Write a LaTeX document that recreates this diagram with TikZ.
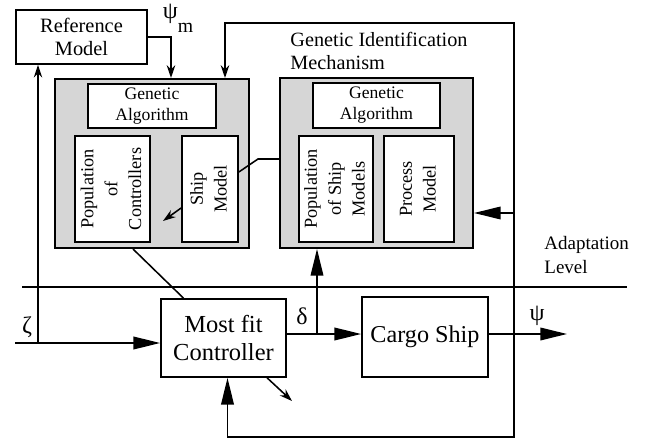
\documentclass[tikz,border=0pt]{standalone}
\usepackage{fontspec}
\setmainfont{Liberation Serif}
\usepackage{graphicx}
\usetikzlibrary{arrows.meta}

% vertical text for the tall boxes
\newcommand{\vtext}[1]{\rotatebox{90}{\begin{tabular}{@{}c@{}}#1\end{tabular}}}

\begin{document}
\begin{tikzpicture}[x=0.025cm, y=-0.025cm, line width=1.1pt]
    % Define basic node styles
    \tikzset{
        block/.style={
            rectangle,
            draw,
            fill=white,
            line width=1.2pt,
            align=center,
            inner sep=0pt
        },
        panel/.style={
            rectangle,
            draw,
            fill=black!16,
            line width=1.4pt
        },
        big/.style={-{Triangle[length=19pt,width=9pt]}},
        small/.style={-{Stealth[length=9pt,width=6pt]}}
    }

    \useasboundingbox (0,0) rectangle (645,440);

    % Reference model
    \node[block, minimum width=3.275cm, minimum height=1.35cm, font=\fontsize{14.5}{16.5}\selectfont] (refmodel) at (81.5,37) {Reference\\Model};
    \node[font=\fontsize{17}{17}\selectfont] (psim) at (178,18) {ψ\raisebox{-1.3ex}{\fontsize{14}{14}\selectfont m}};

    % Controller adaptation panel (left)
    \node[panel, minimum width=4.85cm, minimum height=4.225cm] (ctrlpanel) at (152,163.5) {};
    \node[block, minimum width=3.2cm, minimum height=1.1cm, font=\fontsize{12.5}{15}\selectfont] (gactrl) at (152,106) {Genetic\\Algorithm};
    \node[block, minimum width=1.875cm, minimum height=2.65cm, font=\fontsize{13}{17}\selectfont] (popctrl) at (112.5,189) {\vtext{Population\\of\\Controllers}};
    \node[block, minimum width=1.4cm, minimum height=2.65cm, font=\fontsize{13}{17}\selectfont] (shipmodel) at (210,189) {\vtext{Ship\\Model}};

    % Genetic identification mechanism (right)
    \node[anchor=west, align=left, font=\fontsize{14.4}{16.5}\selectfont] (gimlbl) at (285,51) {Genetic Identification\\Mechanism};
    \node[panel, minimum width=4.825cm, minimum height=4.25cm] (gimpanel) at (376.5,163) {};
    \node[block, minimum width=3.175cm, minimum height=1.125cm, font=\fontsize{12.5}{15}\selectfont] (gaship) at (376.5,105.5) {Genetic\\Algorithm};
    \node[block, minimum width=1.85cm, minimum height=2.65cm, font=\fontsize{13}{17}\selectfont] (popship) at (336,189) {\vtext{Population\\of Ship\\Models}};
    \node[block, minimum width=1.75cm, minimum height=2.65cm, font=\fontsize{13}{17}\selectfont] (procmodel) at (419,189) {\vtext{Process\\Model}};

    % Control loop
    \node[block, minimum width=3.125cm, minimum height=1.95cm, font=\fontsize{17.4}{19.5}\selectfont] (ctrl) at (223.5,338) {Most fit\\Controller};
    \node[block, minimum width=3.15cm, minimum height=2cm, font=\fontsize{17.2}{19.5}\selectfont] (ship) at (425,337) {Cargo Ship};

    % Signal labels
    \node[font=\fontsize{17}{17}\selectfont] (zetalbl) at (27,327) {ζ};
    \node[font=\fontsize{17}{17}\selectfont] (deltalbl) at (302,316) {δ};
    \node[font=\fontsize{17}{17}\selectfont] (psilbl) at (537,316) {ψ};
    \node[anchor=west, align=left, font=\fontsize{13.5}{17}\selectfont] (levellbl) at (539,255) {Adaptation\\Level};

    % Free ends and branch points
    \coordinate (lvlL) at (22,287);
    \coordinate (lvlR) at (627,287);
    \coordinate (zin) at (15,343);
    \coordinate (zeta) at (38,343);
    \coordinate (mtap) at (171,37);
    \coordinate (dtap) at (317,334);
    \coordinate (ytap) at (514,334);
    \coordinate (yout) at (567,334);
    \coordinate (topR) at (514,23);
    \coordinate (topL) at (225,23);
    \coordinate (botR) at (514,437);
    \coordinate (gimin) at (514,213);
    \coordinate (bend) at (258,159);
    \coordinate (shipin) at (238,172);
    \coordinate (shipout) at (182,208);
    \coordinate (popaim) at (163,221);
    \coordinate (spare) at (292,401);

    % Adaptation level boundary
    \draw[line width=1.3pt] (lvlL) -- (lvlR);

    % Reference input and reference model
    \draw[big] (zin) -- (zin -| ctrl.west);
    \draw[small] (zeta) -- (zeta |- refmodel.south);
    \draw[small] (refmodel.east) -| (mtap |- ctrlpanel.north);

    % Control loop connections
    \draw[big] (ctrl.east |- dtap) -- (dtap -| ship.west);
    \draw[big] (dtap) -- (dtap |- gimpanel.south);
    \draw[big] (ship.east |- ytap) -- (yout);
    \draw[small] (ytap) -- (topR) -- (topL) -- (topL |- ctrlpanel.north);
    \draw[big] (gimin) -- (gimin -| gimpanel.east);
    \draw[big] (ytap) -- (botR) -| ([xshift=0.1cm]ctrl.south);
    \draw[small] ([xshift=1.09cm]ctrl.south) -- (spare);

    % Links between the two panels
    \draw (gimpanel.west |- bend) -- (bend) -- (shipin -| shipmodel.east);
    \draw[small] (shipout -| shipmodel.west) -- (popaim);
    \draw ([xshift=-1cm]ctrl.north) -- ([xshift=-0.475cm]ctrlpanel.south);
\end{tikzpicture}
\end{document}
